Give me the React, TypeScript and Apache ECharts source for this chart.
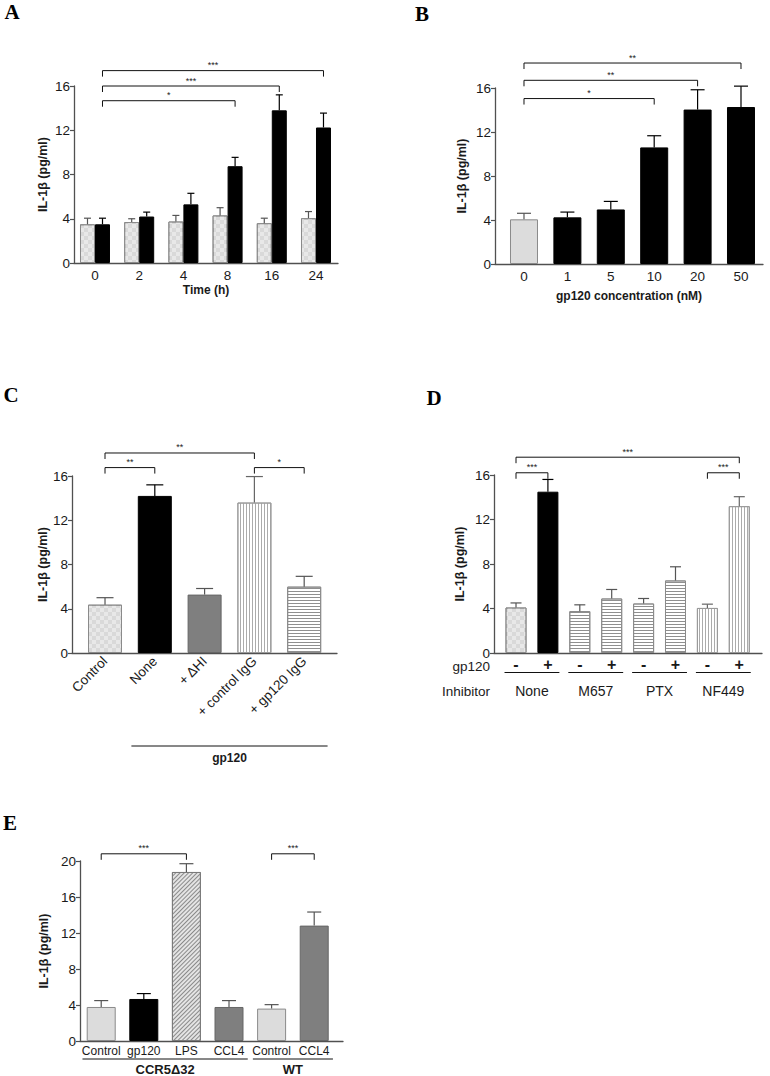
import React, { useEffect, useRef } from 'react';
import * as echarts from 'echarts';

const FONT = '"Liberation Sans", Arial, Helvetica, sans-serif';
const SERIF = '"Liberation Serif", "Times New Roman", serif';
const TXT = '#1a1a1a';
const AXIS = '#505050';
const Y_NAME = 'IL-1β (pg/ml)';

// ---------------- Panel A : time course ----------------
const timeLabels = ['0', '2', '4', '8', '16', '24'];
const aControlMean = [3.5, 3.7, 3.75, 4.3, 3.6, 4.05];
const aControlSem = [0.55, 0.3, 0.55, 0.7, 0.45, 0.6];
const aGp120Mean = [3.5, 4.2, 5.3, 8.75, 13.8, 12.25];
const aGp120Sem = [0.55, 0.4, 1.0, 0.8, 1.4, 1.3];
const aBrackets = [
  { from: 0, to: 3, level: 14.67, stars: '*' },
  { from: 0, to: 4, level: 16.0, stars: '***' },
  { from: 0, to: 5, level: 17.39, stars: '***' },
];

// ---------------- Panel B : dose response ----------------
const concLabels = ['0', '1', '5', '10', '20', '50'];
const bMean = [4.06, 4.24, 4.96, 10.6, 14.04, 14.27];
const bSem = [0.55, 0.48, 0.73, 1.06, 1.8, 1.9];
const bBrackets = [
  { from: 0, to: 3, level: 15.04, stars: '*' },
  { from: 0, to: 4, level: 16.7, stars: '**' },
  { from: 0, to: 5, level: 18.27, stars: '**' },
];

// ---------------- Panel C ----------------
const cLabels = ['Control', 'None', '+ ΔHI', '+ control IgG', '+ gp120 IgG'];
const cMean = [4.37, 14.2, 5.28, 13.6, 6.0];
const cSem = [0.63, 1.0, 0.55, 2.35, 0.93];
const cGroups = [{ name: 'gp120', from: 1, to: 4 }];
const cBrackets = [
  { from: 0, to: 1, level: 16.76, stars: '**' },
  { from: 0, to: 3, level: 18.08, stars: '**' },
  { from: 3, to: 4, level: 16.76, stars: '*' },
];

// ---------------- Panel D ----------------
const dGp120 = ['-', '+', '-', '+', '-', '+', '-', '+'];
const dMean = [4.09, 14.5, 3.76, 4.9, 4.45, 6.52, 4.05, 13.2];
const dSem = [0.41, 1.1, 0.57, 0.81, 0.45, 1.23, 0.34, 0.85];
const dGroups = [
  { name: 'None', from: 0, to: 1 },
  { name: 'M657', from: 2, to: 3 },
  { name: 'PTX', from: 4, to: 5 },
  { name: 'NF449', from: 6, to: 7 },
];
const dBrackets = [
  { from: 0, to: 1, level: 16.2, stars: '***' },
  { from: 0, to: 7, level: 17.6, stars: '***' },
  { from: 6, to: 7, level: 16.2, stars: '***' },
];

// ---------------- Panel E ----------------
const eLabels = ['Control', 'gp120', 'LPS', 'CCL4', 'Control', 'CCL4'];
const eMean = [3.78, 4.67, 18.78, 3.78, 3.6, 12.82];
const eSem = [0.71, 0.6, 0.92, 0.71, 0.44, 1.51];
const eGroups = [
  { name: 'CCR5Δ32', from: 0, to: 3 },
  { name: 'WT', from: 4, to: 5 },
];
const eBrackets = [
  { from: 0, to: 2, level: 20.8, stars: '***' },
  { from: 4, to: 5, level: 20.8, stars: '***' },
];

// ---------------- styles ----------------
const checkerDecal = {
  symbol: 'rect', symbolSize: 1, color: 'rgba(255,255,255,0.4)',
  dashArrayX: [[4, 4], [0, 4, 4, 0]], dashArrayY: [4, 0], rotation: 0,
};
const hDecal = { symbol: 'rect', symbolSize: 1, color: '#8f8f8f', dashArrayX: [1, 0], dashArrayY: [1, 2], rotation: 0 };
const vDecal = { symbol: 'rect', symbolSize: 1, color: '#ababab', dashArrayX: [1, 2], dashArrayY: [1, 0], rotation: 0 };
const diagDecal = { symbol: 'rect', symbolSize: 1, color: '#8a8a8a', dashArrayX: [1, 0], dashArrayY: [1, 2], rotation: -Math.PI / 4 };

const STY: Record<string, any> = {
  check: { color: '#d9d9d9', borderColor: '#8a8a8a', borderWidth: 1, decal: checkerDecal },
  light: { color: '#dcdcdc', borderColor: '#8a8a8a', borderWidth: 1 },
  black: { color: '#000000', borderColor: '#000000', borderWidth: 1 },
  dark: { color: '#7f7f7f', borderColor: '#666666', borderWidth: 1 },
  hlines: { color: '#ffffff', borderColor: '#8a8a8a', borderWidth: 1, decal: hDecal },
  vlines: { color: '#ffffff', borderColor: '#9a9a9a', borderWidth: 1, decal: vDecal },
  diag: { color: '#e4e4e4', borderColor: '#7a7a7a', borderWidth: 1, decal: diagDecal },
};
const ERR_C: Record<string, string> = {
  check: '#555', light: '#555', black: '#000', dark: '#555', hlines: '#555', vlines: '#666', diag: '#555',
};

const bKinds = ['light', 'black', 'black', 'black', 'black', 'black'];
const cKinds = ['check', 'black', 'dark', 'vlines', 'hlines'];
const dKinds = ['check', 'black', 'hlines', 'hlines', 'hlines', 'hlines', 'vlines', 'vlines'];
const eKinds = ['light', 'black', 'diag', 'dark', 'light', 'dark'];

// layout: grid boxes and x extents (category-index units)
const GRIDS = [
  { left: 74, top: 86, width: 264, height: 177 },
  { left: 495, top: 88, width: 268, height: 176 },
  { left: 72, top: 476, width: 265, height: 177 },
  { left: 494, top: 475, width: 268, height: 178 },
  { left: 80, top: 861, width: 263, height: 180 },
];
const XEXT = [
  [-0.475, 5.498],
  [-0.668, 5.507],
  [-0.663, 4.659],
  [-0.69, 7.712],
  [-0.498, 5.676],
];

function xAxis(i: number, labels: string[], extra: any = {}, name?: string, nameGap?: number) {
  return {
    type: 'value', gridIndex: i, min: XEXT[i][0], max: XEXT[i][1],
    axisLine: { show: true, onZero: false, lineStyle: { color: AXIS, width: 1.3 } },
    axisTick: { show: false }, splitLine: { show: false },
    axisLabel: {
      customValues: labels.map((_, k) => k),
      formatter: (v: number) => labels[Math.round(v)] ?? '',
      fontSize: 13.5, color: TXT, fontFamily: FONT, margin: 5, hideOverlap: false,
      ...extra,
    },
    name, nameLocation: 'middle', nameGap,
    nameTextStyle: { fontSize: 12, fontWeight: 'bold', color: TXT, fontFamily: FONT },
  };
}

function yAxis(i: number, max: number, nameGap: number) {
  return {
    type: 'value', gridIndex: i, min: 0, max, interval: 4,
    axisLine: { show: true, onZero: false, lineStyle: { color: AXIS, width: 1.3 } },
    axisTick: { show: true, length: 4, lineStyle: { color: AXIS, width: 1.2 } },
    splitLine: { show: false },
    axisLabel: { fontSize: 13.5, color: TXT, fontFamily: FONT, margin: 4 },
    name: Y_NAME, nameLocation: 'middle', nameGap, nameRotate: 90,
    nameTextStyle: { fontSize: 12.5, fontWeight: 'bold', color: TXT, fontFamily: FONT },
  };
}

function bars(i: number, means: number[], kinds: string[], barWidth: number, extra: any = {}) {
  return {
    type: 'bar', xAxisIndex: i, yAxisIndex: i, barWidth,
    data: means.map((m, k) => ({ value: [k, m], itemStyle: STY[kinds[k]] })),
    ...extra,
  };
}

function seg(x1: number, y1: number, x2: number, y2: number, stroke: string, w: number) {
  return { type: 'line', shape: { x1, y1, x2, y2 }, style: { stroke, lineWidth: w, fill: null } };
}

function errs(i: number, means: number[], sems: number[], kinds: string[], offset: number, cap: number) {
  return {
    type: 'custom', xAxisIndex: i, yAxisIndex: i, clip: false, z: 5, silent: true,
    data: means.map((m, k) => [k, m, m + sems[k]]),
    encode: { x: 0, y: [1, 2] },
    renderItem: (params: any, api: any) => {
      const a = api.coord([api.value(0), api.value(1)]);
      const b = api.coord([api.value(0), api.value(2)]);
      const x = a[0] + offset;
      const c = ERR_C[kinds[params.dataIndex]];
      return {
        type: 'group',
        children: [seg(x, b[1], x, a[1], c, 1.2), seg(x - cap / 2, b[1], x + cap / 2, b[1], c, 1.2)],
      };
    },
  };
}

function brackets(i: number, list: any[], offset: number) {
  return {
    type: 'custom', xAxisIndex: i, yAxisIndex: i, clip: false, z: 6, silent: true,
    data: list.map((b) => [b.from, b.to, b.level]),
    encode: { x: [0, 1], y: 2 },
    renderItem: (params: any, api: any) => {
      const b = list[params.dataIndex];
      const p = api.coord([api.value(0), api.value(2)]);
      const q = api.coord([api.value(1), api.value(2)]);
      const x1 = p[0] + offset;
      const x2 = q[0] + offset;
      const y = p[1];
      return {
        type: 'group',
        children: [
          seg(x1, y, x2, y, '#111', 1),
          seg(x1, y, x1, y + 6, '#111', 1),
          seg(x2, y, x2, y + 6, '#111', 1),
          {
            type: 'text',
            style: {
              text: b.stars, x: (x1 + x2) / 2, y: y - 1, align: 'center', verticalAlign: 'bottom',
              fontSize: 9, fontFamily: FONT, fill: '#222',
            },
          },
        ],
      };
    },
  };
}

function groupLabels(i: number, list: any[], pad: number, lineDy: number, textDy: number, fontSize: number, bold: boolean) {
  return {
    type: 'custom', xAxisIndex: i, yAxisIndex: i, clip: false, z: 6, silent: true,
    data: list.map((g) => [g.from, g.to, 0]),
    encode: { x: [0, 1], y: 2 },
    renderItem: (params: any, api: any) => {
      const g = list[params.dataIndex];
      const l = api.coord([api.value(0) - pad, 0]);
      const r = api.coord([api.value(1) + pad, 0]);
      const y0 = l[1];
      return {
        type: 'group',
        children: [
          seg(l[0], y0 + lineDy, r[0], y0 + lineDy, '#111', 1),
          {
            type: 'text',
            style: {
              text: g.name, x: (l[0] + r[0]) / 2, y: y0 + textDy, align: 'center', verticalAlign: 'middle',
              fontSize, fontWeight: bold ? 'bold' : 'normal', fontFamily: FONT, fill: TXT,
            },
          },
        ],
      };
    },
  };
}

function letter(t: string, x: number, y: number) {
  return {
    type: 'text', x, y,
    style: { text: t, fontSize: 21, fontWeight: 'bold', fontFamily: SERIF, fill: '#000', align: 'center', verticalAlign: 'middle' },
  };
}
function rowHead(t: string, x: number, y: number) {
  return {
    type: 'text', x, y,
    style: { text: t, fontSize: 13.5, fontFamily: FONT, fill: TXT, align: 'right', verticalAlign: 'middle' },
  };
}

export default function App() {
  const ref = useRef<HTMLDivElement>(null);
  useEffect(() => {
    if (!ref.current) return;
    const chart = echarts.init(ref.current, null, { renderer: 'svg' });
    const aKindsC = aControlMean.map(() => 'check');
    const aKindsG = aGp120Mean.map(() => 'black');
    const option: any = {
      animation: false,
      backgroundColor: '#ffffff',
      grid: GRIDS.map((g) => ({ ...g, containLabel: false })),
      xAxis: [
        xAxis(0, timeLabels, { margin: 5 }, 'Time (h)', 21),
        xAxis(1, concLabels, { margin: 5 }, 'gp120 concentration (nM)', 26),
        xAxis(2, cLabels, { rotate: 45, margin: 6, fontSize: 13.5 }),
        xAxis(3, dGp120, { fontSize: 16, fontWeight: 'bold', margin: 3 }),
        xAxis(4, eLabels, { fontSize: 12, margin: 4 }),
      ],
      yAxis: [yAxis(0, 16, 25), yAxis(1, 16, 27), yAxis(2, 16, 23), yAxis(3, 16, 28), yAxis(4, 20, 30)],
      series: [
        bars(0, aControlMean, aKindsC, 15, { barGap: '0%' }),
        bars(0, aGp120Mean, aKindsG, 15, { barGap: '0%' }),
        brackets(0, aBrackets, 7.5),
        errs(0, aControlMean, aControlSem, aKindsC, -7.5, 7),
        errs(0, aGp120Mean, aGp120Sem, aKindsG, 7.5, 7),

        bars(1, bMean, bKinds, 28),
        brackets(1, bBrackets, 0),
        errs(1, bMean, bSem, bKinds, 0, 14),

        bars(2, cMean, cKinds, 34),
        brackets(2, cBrackets, 0),
        errs(2, cMean, cSem, cKinds, 0, 17),
        groupLabels(2, cGroups, 0.47, 93, 105, 12, true),

        bars(3, dMean, dKinds, 21),
        brackets(3, dBrackets, 0),
        errs(3, dMean, dSem, dKinds, 0, 11),
        groupLabels(3, dGroups, 0.36, 19.5, 38, 14, false),

        bars(4, eMean, eKinds, 29),
        brackets(4, eBrackets, 0),
        errs(4, eMean, eSem, eKinds, 0, 14),
        groupLabels(4, eGroups, 0.44, 18, 28, 13, true),
      ],
      graphic: [
        letter('A', 12, 12),
        letter('B', 422, 14),
        letter('C', 11, 395),
        letter('D', 434, 398),
        letter('E', 10, 823),
        rowHead('gp120', 490, 666),
        rowHead('Inhibitor', 490, 691),
      ],
    };
    chart.setOption(option);
    return () => chart.dispose();
  }, []);
  return (
    <div
      ref={ref}
      style={{ position: 'fixed', left: 0, top: 0, width: 770, height: 1076, background: '#fff' }}
    />
  );
}
